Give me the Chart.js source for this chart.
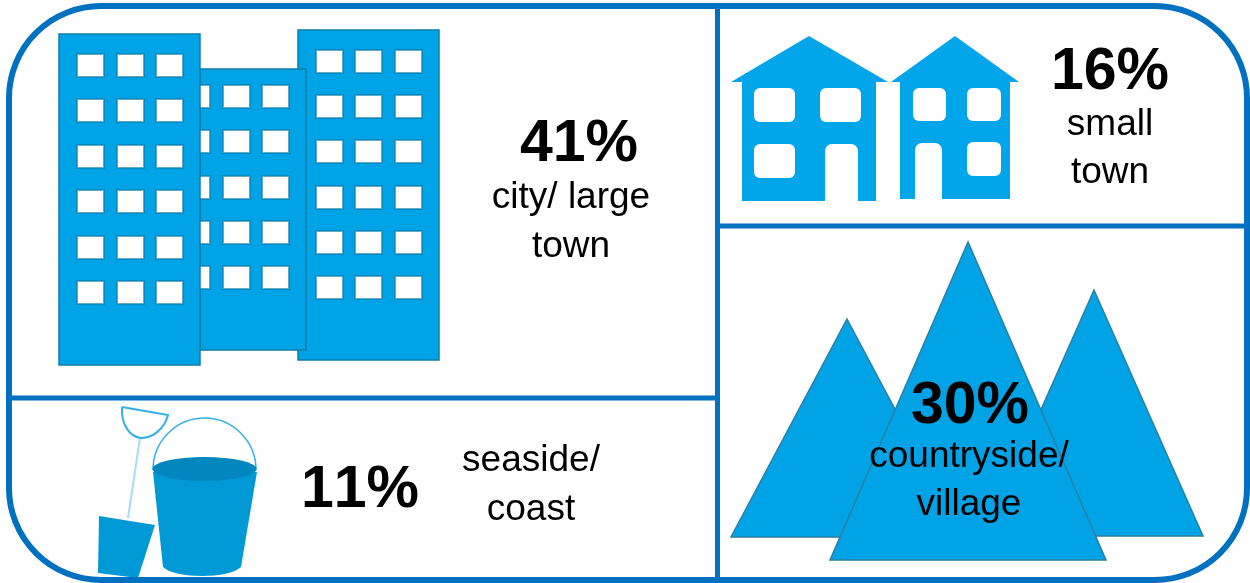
<!DOCTYPE html>
<html>
<head>
<meta charset="utf-8">
<title>Where people live</title>
<script src="https://cdn.jsdelivr.net/npm/chart.js@4"></script>
<style>
  html, body { margin: 0; padding: 0; background: #fff; overflow: hidden; }
  canvas { display: block; }
</style>
</head>
<body>
<canvas id="areas" width="1250" height="583"></canvas>
<script>
// shares by type of area
const shares = [41, 16, 30, 11];
const areaLabels = [['city/ large', 'town'], ['small', 'town'], ['countryside/', 'village'], ['seaside/', 'coast']];

// where each percentage and its caption sit, in canvas units
const shareAnchors = [[579, 161], [1110, 89], [970, 423], [360, 507]];
const captionAnchors = [[571, 208], [1110, 135], [969, 467], [531, 471]];
const captionGaps = [49, 48, 48, 49];

const FRAME = '#0070c0';
const SKY = '#00a4e6';
const SKY_EDGE = '#0b7dab';
const PAIL = '#0099d6';

const towers = [
  { x: 298, y: 30, w: 141, h: 330, winX: [316, 355, 395], winY: [50, 95, 140, 186, 231, 276] },
  { x: 200, y: 69, w: 106, h: 281, winX: [183, 223, 262], winY: [85, 130, 176, 221, 266] },
  { x: 59, y: 34, w: 141, h: 331, winX: [77, 117, 156], winY: [54, 99, 145, 190, 236, 281] }
];
const peaks = [
  [[847, 319], [731, 537], [963, 537]],
  [[1094, 290], [985, 536], [1203, 536]],
  [[968, 242], [830, 560], [1106, 560]]
];

function drawFrame(c, sx, sy) {
  c.strokeStyle = FRAME;
  c.lineWidth = 6;
  c.beginPath();
  c.roundRect(sx(9), sy(6), sx(1247) - sx(9), sy(580) - sy(6), 92);
  c.stroke();
  c.lineWidth = 5;
  c.beginPath();
  c.moveTo(sx(717.5), sy(6));
  c.lineTo(sx(717.5), sy(580));
  c.moveTo(sx(9), sy(398));
  c.lineTo(sx(717.5), sy(398));
  c.moveTo(sx(717.5), sy(226));
  c.lineTo(sx(1247), sy(226));
  c.stroke();
}

function drawTowers(c, sx, sy) {
  // back to front, so the left tower hides the middle tower's first windows
  towers.forEach(function (t) {
    c.fillStyle = SKY;
    c.strokeStyle = SKY_EDGE;
    c.lineWidth = 1.5;
    c.fillRect(sx(t.x), sy(t.y), t.w, t.h);
    c.strokeRect(sx(t.x), sy(t.y), t.w, t.h);
    c.lineWidth = 2;
    t.winY.forEach(function (wy) {
      t.winX.forEach(function (wx) {
        c.fillStyle = '#fff';
        c.strokeStyle = 'rgba(11,125,171,0.65)';
        c.fillRect(sx(wx), sy(wy), 27, 23);
        c.strokeRect(sx(wx), sy(wy), 27, 23);
      });
    });
  });
}

function drawHouse(c, sx, sy, h) {
  c.fillStyle = '#00a6e9';
  c.beginPath();
  c.moveTo(sx(h.apex), sy(36));
  c.lineTo(sx(h.right), sy(82));
  c.lineTo(sx(h.bodyR), sy(82));
  c.lineTo(sx(h.bodyR), sy(h.base));
  c.lineTo(sx(h.bodyL), sy(h.base));
  c.lineTo(sx(h.bodyL), sy(82));
  c.lineTo(sx(h.left), sy(82));
  c.closePath();
  c.fill();
  c.fillStyle = '#fff';
  h.windows.forEach(function (w) {
    c.beginPath();
    c.roundRect(sx(w[0]), sy(w[1]), w[2], w[3], 6);
    c.fill();
  });
  c.beginPath();
  c.roundRect(sx(h.door[0]), sy(h.door[1]), h.door[2], h.base - h.door[1] + 1, [7, 7, 0, 0]);
  c.fill();
}

function drawPeaks(c, sx, sy) {
  c.fillStyle = SKY;
  c.strokeStyle = '#2a7fa3';
  c.lineWidth = 1.5;
  peaks.forEach(function (p) {
    c.beginPath();
    c.moveTo(sx(p[0][0]), sy(p[0][1]));
    c.lineTo(sx(p[1][0]), sy(p[1][1]));
    c.lineTo(sx(p[2][0]), sy(p[2][1]));
    c.closePath();
    c.fill();
    c.stroke();
  });
}

function drawBucket(c, sx, sy) {
  // spade head and handle
  c.strokeStyle = '#a8dcf5';
  c.lineWidth = 2;
  c.beginPath();
  c.moveTo(sx(140), sy(438));
  c.lineTo(sx(128), sy(518));
  c.stroke();
  c.strokeStyle = '#35b0e6';
  c.beginPath();
  c.moveTo(sx(122), sy(407));
  c.lineTo(sx(168), sy(415));
  c.bezierCurveTo(sx(164), sy(430), sx(152), sy(438), sx(141), sy(438));
  c.bezierCurveTo(sx(130), sy(437), sx(121), sy(425), sx(122), sy(407));
  c.stroke();
  c.fillStyle = PAIL;
  c.beginPath();
  c.moveTo(sx(99), sy(516));
  c.lineTo(sx(155), sy(525));
  c.lineTo(sx(138), sy(578));
  c.lineTo(sx(98), sy(573));
  c.closePath();
  c.fill();
  // pail handle, body and dark rim
  c.strokeStyle = '#35b0e6';
  c.lineWidth = 1.5;
  c.beginPath();
  c.ellipse(sx(204.5), sy(470), 51.5, 52, 0, Math.PI, 0);
  c.stroke();
  c.fillStyle = PAIL;
  c.beginPath();
  c.moveTo(sx(153), sy(472));
  c.lineTo(sx(163), sy(567));
  c.bezierCurveTo(sx(175), sy(579), sx(229), sy(579), sx(241), sy(567));
  c.lineTo(sx(257), sy(472));
  c.closePath();
  c.fill();
  c.fillStyle = '#0087bf';
  c.beginPath();
  c.ellipse(sx(204.5), sy(469), 52, 12, 0, 0, Math.PI * 2);
  c.fill();
}

const pictograms = {
  id: 'pictograms',
  beforeDatasetsDraw: function (chart) {
    const c = chart.ctx;
    const sx = function (v) { return chart.scales.x.getPixelForValue(v); };
    const sy = function (v) { return chart.scales.y.getPixelForValue(v); };
    c.save();
    drawTowers(c, sx, sy);
    drawHouse(c, sx, sy, {
      apex: 809, left: 731, right: 888, bodyL: 742, bodyR: 876, base: 201,
      windows: [[754, 88, 41, 34], [820, 88, 41, 34], [754, 144, 41, 34]],
      door: [825, 144, 33]
    });
    drawHouse(c, sx, sy, {
      apex: 955, left: 891, right: 1019, bodyL: 900, bodyR: 1010, base: 199,
      windows: [[913, 88, 33, 33], [967, 88, 34, 33], [967, 142, 34, 34]],
      door: [915, 143, 27]
    });
    drawPeaks(c, sx, sy);
    drawBucket(c, sx, sy);
    drawFrame(c, sx, sy);
    c.restore();
  }
};

// percentages are placed on the dataset's points, captions below them
const shareText = {
  id: 'shareText',
  afterDatasetsDraw: function (chart) {
    const c = chart.ctx;
    const points = chart.getDatasetMeta(0).data;
    c.save();
    c.fillStyle = '#000';
    c.textAlign = 'center';
    c.textBaseline = 'alphabetic';
    c.fontKerning = 'none';
    points.forEach(function (pt, i) {
      c.font = 'bold 59px "Liberation Sans", Arial, sans-serif';
      c.fillText(shares[i] + '%', pt.x, pt.y);
      c.font = '37px "Liberation Sans", Arial, sans-serif';
      const cx = chart.scales.x.getPixelForValue(captionAnchors[i][0]);
      const cy = chart.scales.y.getPixelForValue(captionAnchors[i][1]);
      areaLabels[i].forEach(function (line, n) {
        c.fillText(line, cx, cy + n * captionGaps[i]);
      });
    });
    c.restore();
  }
};

new Chart(document.getElementById('areas'), {
  type: 'scatter',
  data: {
    datasets: [{
      label: 'share of people',
      data: shares.map(function (s, i) {
        return { x: shareAnchors[i][0], y: shareAnchors[i][1], share: s };
      }),
      pointRadius: 0
    }]
  },
  options: {
    responsive: false,
    animation: false,
    layout: { padding: 0 },
    plugins: { legend: { display: false }, tooltip: { enabled: false } },
    scales: {
      x: { type: 'linear', min: 0, max: 1250, display: false },
      y: { type: 'linear', min: 0, max: 583, reverse: true, display: false }
    }
  },
  plugins: [pictograms, shareText]
});
</script>
</body>
</html>
